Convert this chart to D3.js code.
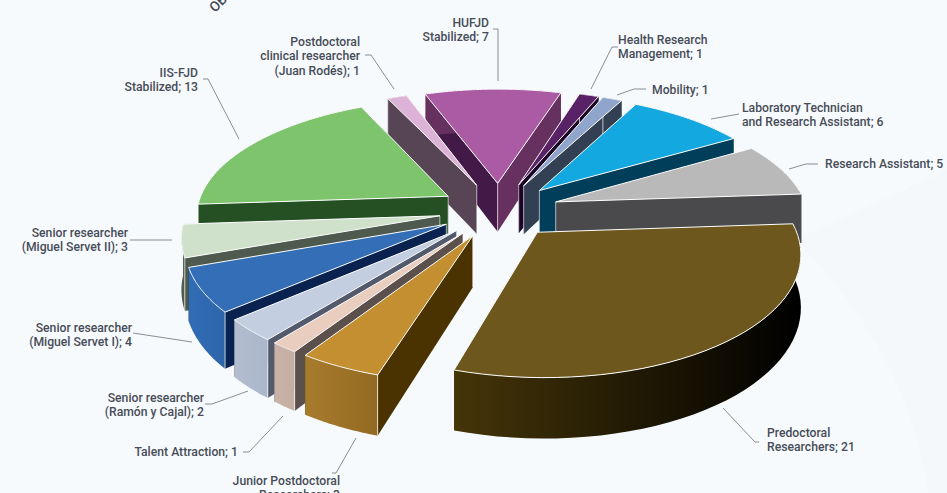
<!DOCTYPE html>
<html>
<head>
<meta charset="utf-8">
<script src="https://cdn.jsdelivr.net/npm/d3@7"></script>
<style>
  html, body { margin: 0; padding: 0; background: #f6fafc; overflow: hidden; }
  text { font-family: Roboto, sans-serif; font-size: 12.2px; font-weight: 500; fill: #474c58; }
</style>
</head>
<body>
<div id="chart"></div>
<script>
// data, clockwise from the Predoctoral slice
const categories = ["Predoctoral Researchers", "Junior Postdoctoral Researchers", "Talent Attraction",
    "Senior researcher (Ramón y Cajal)", "Senior researcher (Miguel Servet I)", "Senior researcher (Miguel Servet II)",
    "IIS-FJD Stabilized", "Postdoctoral clinical researcher (Juan Rodés)", "HUFJD Stabilized",
    "Health Research Management", "Mobility", "Laboratory Technician and Research Assistant", "Research Assistant"];
const values = [21, 3, 1, 2, 4, 3, 13, 1, 7, 1, 1, 6, 5];
const topColors = ["#6e571d", "#c48f31", "#e9cdbf", "#c3cee0", "#336eb7", "#cfe0cb", "#7ec46c", "#dcb3d6", "#aa5ba3",
    "#5a2266", "#8fa5cc", "#14a8e0", "#b9b9b9"];
const startWallColors = ["#4a3600", "#4a3300", "#5c504c", "#525a6c", "#0a224f", "#4f5a4f", "#245023", "#574556", "#431a47",
    "#1c0526", "#333f52", "#003e5a", "#4a4a4c"];
const endWallColors = ["#4a3600", "#4a3300", "#5c504c", "#525a6c", "#0a224f", "#4f5a4f", "#245023", "#574556", "#66305f",
    "#1c0526", "#333f52", "#003e5a", "#4a4a4c"];
const arcLeftColors = ["#453508", "#a87c2d", "#c9b3a8", "#b2bdd0", "#316cb5", "#4f5a4f", "#245023", "#574556", "#66305f",
    "#1c0526", "#333f52", "#003e5a", "#4a4a4c"];
const arcRightColors = ["#000000", "#936a22", "#c4aea2", "#aab6ca", "#2e66aa", "#4f5a4f", "#245023", "#574556", "#66305f",
    "#1c0526", "#333f52", "#003e5a", "#4a4a4c"];
const labels = [
    ["Predoctoral", "Researchers; 21"], ["Junior Postdoctoral", "Researchers; 3"], ["Talent Attraction; 1"],
    ["Senior researcher", "(Ramón y Cajal); 2"], ["Senior researcher", "(Miguel Servet I); 4"],
    ["Senior researcher", "(Miguel Servet II); 3"], ["IIS-FJD", "Stabilized; 13"],
    ["Postdoctoral", "clinical researcher", "(Juan Rodés); 1"], ["HUFJD", "Stabilized; 7"],
    ["Health Research", "Management; 1"], ["Mobility; 1"], ["Laboratory Technician", "and Research Assistant; 6"],
    ["Research Assistant; 5"]];

// label placement, same order as categories
const labelLayout = [
    { x: 767, y: 432, anchor: "start", leader: [[759, 442], [755, 442], [723, 408]] },
    { x: 340, y: 480, anchor: "end", leader: [[332, 473], [336, 473], [356, 438]] },
    { x: 238, y: 451, anchor: "end", leader: [[243, 452], [249, 452], [283, 416]] },
    { x: 204, y: 397, anchor: "end", leader: [[205, 404], [212, 404], [248, 391]] },
    { x: 132, y: 327, anchor: "end", leader: [[133, 333], [192, 342]] },
    { x: 128, y: 232, anchor: "end", leader: [[130, 240], [172, 240]] },
    { x: 198, y: 72, anchor: "end", leader: [[203, 79], [208, 79], [239, 139]] },
    { x: 360, y: 41, anchor: "end", leader: [[365, 55], [371, 55], [394, 89]] },
    { x: 489, y: 22, anchor: "end", leader: [[493, 29], [498, 29], [498, 81]] },
    { x: 618, y: 39, anchor: "start", leader: [[618, 47], [612, 47], [591, 89]] },
    { x: 652, y: 89, anchor: "start", leader: [[646, 89], [634, 89], [617, 95]] },
    { x: 742, y: 107, anchor: "start", leader: [[739, 114], [711, 119]] },
    { x: 825, y: 163, anchor: "start", leader: [[818, 164], [806, 164], [789, 169]] }
];

const width = 947, height = 493;

// pie geometry and a small perspective
const radius = 252, explode = 60, depth = 50;
const cx = 499, cy = 210, tilt = 0.46, persp = 0.0006;
const toRad = Math.PI / 180;

function project(X, Y, Z) {
    const s = 1 / (1 - persp * Y);
    return [cx + X * s, cy + (tilt * Y + Z) * s];
}

const svg = d3.select("#chart").append("svg")
    .attr("width", width)
    .attr("height", height);

const defs = svg.append("defs");

// faint background shapes
svg.append("rect").attr("width", width).attr("height", height).attr("fill", "#f6fafc");
svg.append("path")
    .attr("d", "M947,400 L947,493 L928,493 C918,400 860,300 795,240 L947,170 Z")
    .attr("fill", "#f4f8fa");

svg.append("text")
    .attr("transform", "translate(215,13) rotate(-45)")
    .style("font-size", "14px")
    .text("OB");

const pie = d3.pie().sort(null).startAngle(86 * toRad).endAngle((86 + 360) * toRad);
const slices = pie(values).map((d, i) => ({ ...d, i, mid: (d.startAngle + d.endAngle) / 2 }));

const linePath = d3.line();

function ringPoint(d, a, r, z) {
    const X = r * Math.sin(a) + explode * Math.sin(d.mid);
    const Y = -r * Math.cos(a) - explode * Math.cos(d.mid);
    return project(X, Y, z);
}

function radialWall(d, a) {
    return linePath([ringPoint(d, a, 0, 0), ringPoint(d, a, radius, 0), ringPoint(d, a, radius, depth), ringPoint(d, a, 0, depth)]) + "Z";
}

// far slices first, near slices painted over them
const ordered = slices.slice().sort((a, b) => Math.cos(b.mid) - Math.cos(a.mid));

ordered.forEach(d => {
    const g = svg.append("g").attr("class", "slice");
    const steps = d3.range(0, 41).map(t => d.startAngle + (d.endAngle - d.startAngle) * t / 40);

    g.append("path").attr("d", radialWall(d, d.startAngle)).attr("fill", startWallColors[d.i]);
    g.append("path").attr("d", radialWall(d, d.endAngle)).attr("fill", endWallColors[d.i]);

    const topArc = steps.map(a => ringPoint(d, a, radius, 0));
    const lowArc = steps.map(a => ringPoint(d, a, radius, depth)).reverse();
    const xs = topArc.map(p => p[0]);

    const grad = defs.append("linearGradient")
        .attr("id", "wall" + d.i)
        .attr("gradientUnits", "userSpaceOnUse")
        .attr("x1", d3.min(xs)).attr("x2", d3.max(xs))
        .attr("y1", 0).attr("y2", 0);
    grad.append("stop").attr("offset", 0).attr("stop-color", arcLeftColors[d.i]);
    grad.append("stop").attr("offset", 1).attr("stop-color", arcRightColors[d.i]);

    g.append("path")
        .attr("d", linePath(topArc.concat(lowArc)) + "Z")
        .attr("fill", `url(#wall${d.i})`);

    // white edge where the two walls meet
    g.append("path")
        .attr("d", linePath([ringPoint(d, 0, 0, 0), ringPoint(d, 0, 0, depth)]))
        .attr("stroke", "#fff").attr("stroke-opacity", 0.6).attr("fill", "none");
    g.append("path")
        .attr("d", linePath([ringPoint(d, d.startAngle, radius, 0), ringPoint(d, d.startAngle, radius, depth)]))
        .attr("stroke", "#fff").attr("stroke-opacity", 0.7).attr("fill", "none");

    g.append("path")
        .attr("d", linePath([ringPoint(d, 0, 0, 0)].concat(topArc)) + "Z")
        .attr("fill", topColors[d.i])
        .attr("stroke", "#fff")
        .attr("stroke-width", 1)
        .attr("stroke-linejoin", "round");
});

// leader lines and labels
labelLayout.forEach((l, i) => {
    svg.append("path")
        .attr("d", linePath(l.leader))
        .attr("fill", "none")
        .attr("stroke", "#7d8288")
        .attr("stroke-width", 0.9);

    const t = svg.append("text")
        .attr("text-anchor", l.anchor)
        .attr("x", l.x)
        .attr("y", l.y + 4.5);
    labels[i].forEach((line, j) => {
        t.append("tspan").attr("x", l.x).attr("dy", j ? 14.6 : 0).text(line);
    });
});
</script>
</body>
</html>
